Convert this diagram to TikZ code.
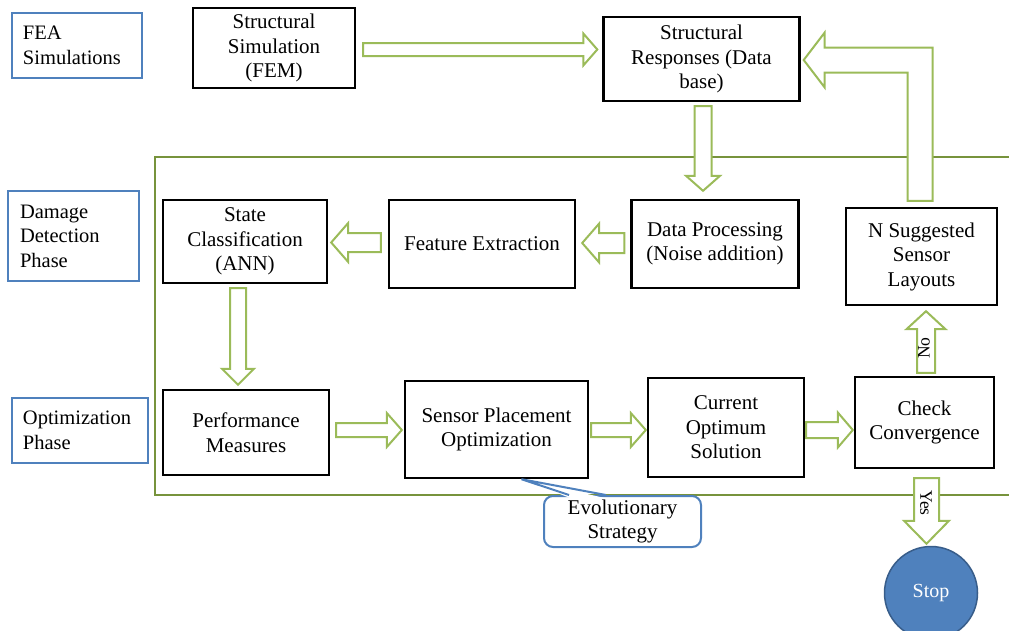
\documentclass[tikz,border=0pt]{standalone}
\usepackage{fontspec}
\setmainfont{Liberation Serif}
\usetikzlibrary{calc}
\definecolor{agreen}{HTML}{9BBB59}
\definecolor{fgreen}{HTML}{77933C}
\definecolor{oblue}{HTML}{4F81BD}
\definecolor{dblue}{HTML}{385D8A}
\tikzset{
  box/.style={draw=black, line width=2.4pt, fill=white, inner sep=0pt, align=center,
    font=\fontsize{21}{24.5}\selectfont},
  phase/.style={draw=oblue, line width=2.2pt, inner ysep=0pt, align=left,
    font=\fontsize{20.5}{24.5}\selectfont},
  barrowline/.style={draw=agreen, line width=2pt, fill=white, line join=miter},
  lab/.style={font=\fontsize{17.5}{20}\selectfont, inner sep=0pt},
  calloutbox/.style={draw=oblue, line width=2pt, fill=white, rounded corners=9pt,
    inner sep=0pt, align=center, font=\fontsize{21}{24.5}\selectfont},
  stopnode/.style={circle, fill=oblue, draw=dblue, line width=1.5pt, inner sep=0pt,
    text=white, font=\fontsize{20}{24}\selectfont},
}
% #1 start, #2 tip, #3 shaft half width, #4 head half width, #5 head length
\newcommand\blockarrow[5]{%
  \coordinate (bah) at ($(#2)!#5pt!(#1)$);
  \draw[barrowline] ($(#1)!#3pt!90:(#2)$) -- ($(bah)!#3pt!90:(#2)$)
    -- ($(bah)!#4pt!90:(#2)$) -- (#2) -- ($(bah)!#4pt!-90:(#2)$)
    -- ($(bah)!#3pt!-90:(#2)$) -- ($(#1)!#3pt!-90:(#2)$) -- cycle;}
\begin{document}
\begin{tikzpicture}[x=1pt, y=-1pt]
\useasboundingbox (0,0) rectangle (1009,630);
% frame
\draw[fgreen, line width=2.2pt] (1015,157) -- (155,157) -- (155,495) -- (1015,495);
% phase labels
\node[phase, text width=108pt, inner xsep=11pt, minimum height=65pt] (fea) at (77,45.5) {FEA\\Simulations};
\node[phase, text width=107pt, inner xsep=12pt, minimum height=90pt] (dmg) at (73.5,236) {Damage\\Detection\\Phase};
\node[phase, text width=114pt, inner xsep=11pt, minimum height=65pt] (opt) at (80,430.5) {Optimization\\Phase};
% boxes
\node[box, minimum width=162pt, minimum height=80pt] (fem) at (274,48) {Structural\\Simulation\\(FEM)};
\node[box, minimum width=196pt, minimum height=84pt] (resp) at (701.5,59) {Structural\\Responses (Data\\base)};
\node[box, minimum width=164pt, minimum height=83pt] (state) at (245,241.5) {State\\Classification\\(ANN)};
\node[box, minimum width=186pt, minimum height=88pt] (feat) at (482,244) {Feature Extraction};
\node[box, minimum width=167pt, minimum height=88pt] (dproc) at (715,244) {Data Processing\\(Noise addition)};
\node[box, minimum width=151pt, minimum height=97pt] (nsug) at (921.5,256.5) {N Suggested\\Sensor\\Layouts};
\node[box, minimum width=166pt, minimum height=85pt] (perf) at (246,432.5) {Performance\\Measures};
\node[box, minimum width=183pt, minimum height=97pt] (spo) at (496.5,429.5) {Sensor Placement\\Optimization};
\node[box, minimum width=156pt, minimum height=99pt] (cur) at (726,427.5) {Current\\Optimum\\Solution};
\node[box, minimum width=139pt, minimum height=91pt] (chk) at (924.5,422.5) {Check\\Convergence};
\node[stopnode, minimum size=93pt] (stop) at (931,593) {Stop};
% callout
\node[calloutbox, minimum width=157pt, minimum height=51pt] (evo) at (622.5,521.5) {Evolutionary\\Strategy};
\coordinate (evotip) at ($(spo.south)+(25,0)$);
\coordinate (e1) at ($(evo.north west)+(26,0)$);
\coordinate (e2) at ($(evo.north west)+(63,0)$);
\fill[white] ($(e1)+(1.2,3)$) -- (evotip) -- ($(e2)+(-1.2,3)$) -- cycle;
\draw[oblue, line width=2pt, line join=miter] (e1) -- (evotip) -- (e2);
% arrow end points
\coordinate (a1s) at ($(fem.east)+(7,1.5)$);
\coordinate (a1e) at ($(resp.west |- a1s)+(-5,0)$);
\coordinate (a2s) at ($(resp.south)+(1.5,4)$);
\coordinate (a2e) at ($(dproc.north -| a2s)+(0,-8)$);
\coordinate (a3s) at ($(dproc.west)+(-6,-1)$);
\coordinate (a3e) at ($(feat.east |- a3s)+(6,0)$);
\coordinate (a4s) at ($(feat.west)+(-7,-1.5)$);
\coordinate (a4e) at ($(state.east |- a4s)+(3,0)$);
\coordinate (a5s) at ($(state.south)+(-7,4)$);
\coordinate (a5e) at ($(perf.north -| a5s)+(0,-4)$);
\coordinate (a6s) at ($(perf.east)+(6,-2.5)$);
\coordinate (a6e) at ($(spo.west |- a6s)+(-2,0)$);
\coordinate (a7s) at ($(spo.east)+(2,0.5)$);
\coordinate (a7e) at ($(cur.west |- a7s)+(-1,0)$);
\coordinate (a8s) at ($(cur.east)+(1,2.5)$);
\coordinate (a8e) at ($(chk.west |- a8s)+(-1,0)$);
\coordinate (a9s) at ($(chk.north)+(1.5,-3)$);
\coordinate (a9e) at ($(nsug.south -| a9s)+(0,5)$);
\coordinate (a10s) at ($(chk.south)+(2,9)$);
\coordinate (a10e) at ($(stop.north -| a10s)+(0,-2)$);
% arrows
\blockarrow{a1s}{a1e}{6.5}{16}{14}
\blockarrow{a2s}{a2e}{8.5}{17}{15}
\blockarrow{a3s}{a3e}{10}{19.5}{17}
\blockarrow{a4s}{a4e}{9.5}{19.5}{17}
\blockarrow{a5s}{a5e}{8}{16}{16}
\blockarrow{a6s}{a6e}{7}{17}{15}
\blockarrow{a7s}{a7e}{7}{17}{15}
\blockarrow{a8s}{a8e}{8}{17.5}{15}
\blockarrow{a9s}{a9e}{9}{19.5}{18}
\blockarrow{a10s}{a10e}{12.5}{22.5}{23}
% L-shaped arrow from suggested layouts back to responses
\coordinate (Ls) at ($(nsug.north)+(-1.5,-6)$);
\coordinate (Lt) at ($(resp.east)+(3,1)$);
\draw[barrowline] ($(Ls)+(-12.5,0)$) -- ($(Ls |- Lt)+(-12.5,12.5)$)
  -- ($(Lt)+(21,12.5)$) -- ($(Lt)+(21,27.5)$) -- (Lt)
  -- ($(Lt)+(21,-27.5)$) -- ($(Lt)+(21,-12.5)$)
  -- ($(Ls |- Lt)+(12.5,-12.5)$) -- ($(Ls)+(12.5,0)$) -- cycle;
% labels on arrows
\node[lab, rotate=90] (nolab) at (924,348) {No};
\node[lab, rotate=-90] (yeslab) at (926,503) {Yes};
\end{tikzpicture}
\end{document}
